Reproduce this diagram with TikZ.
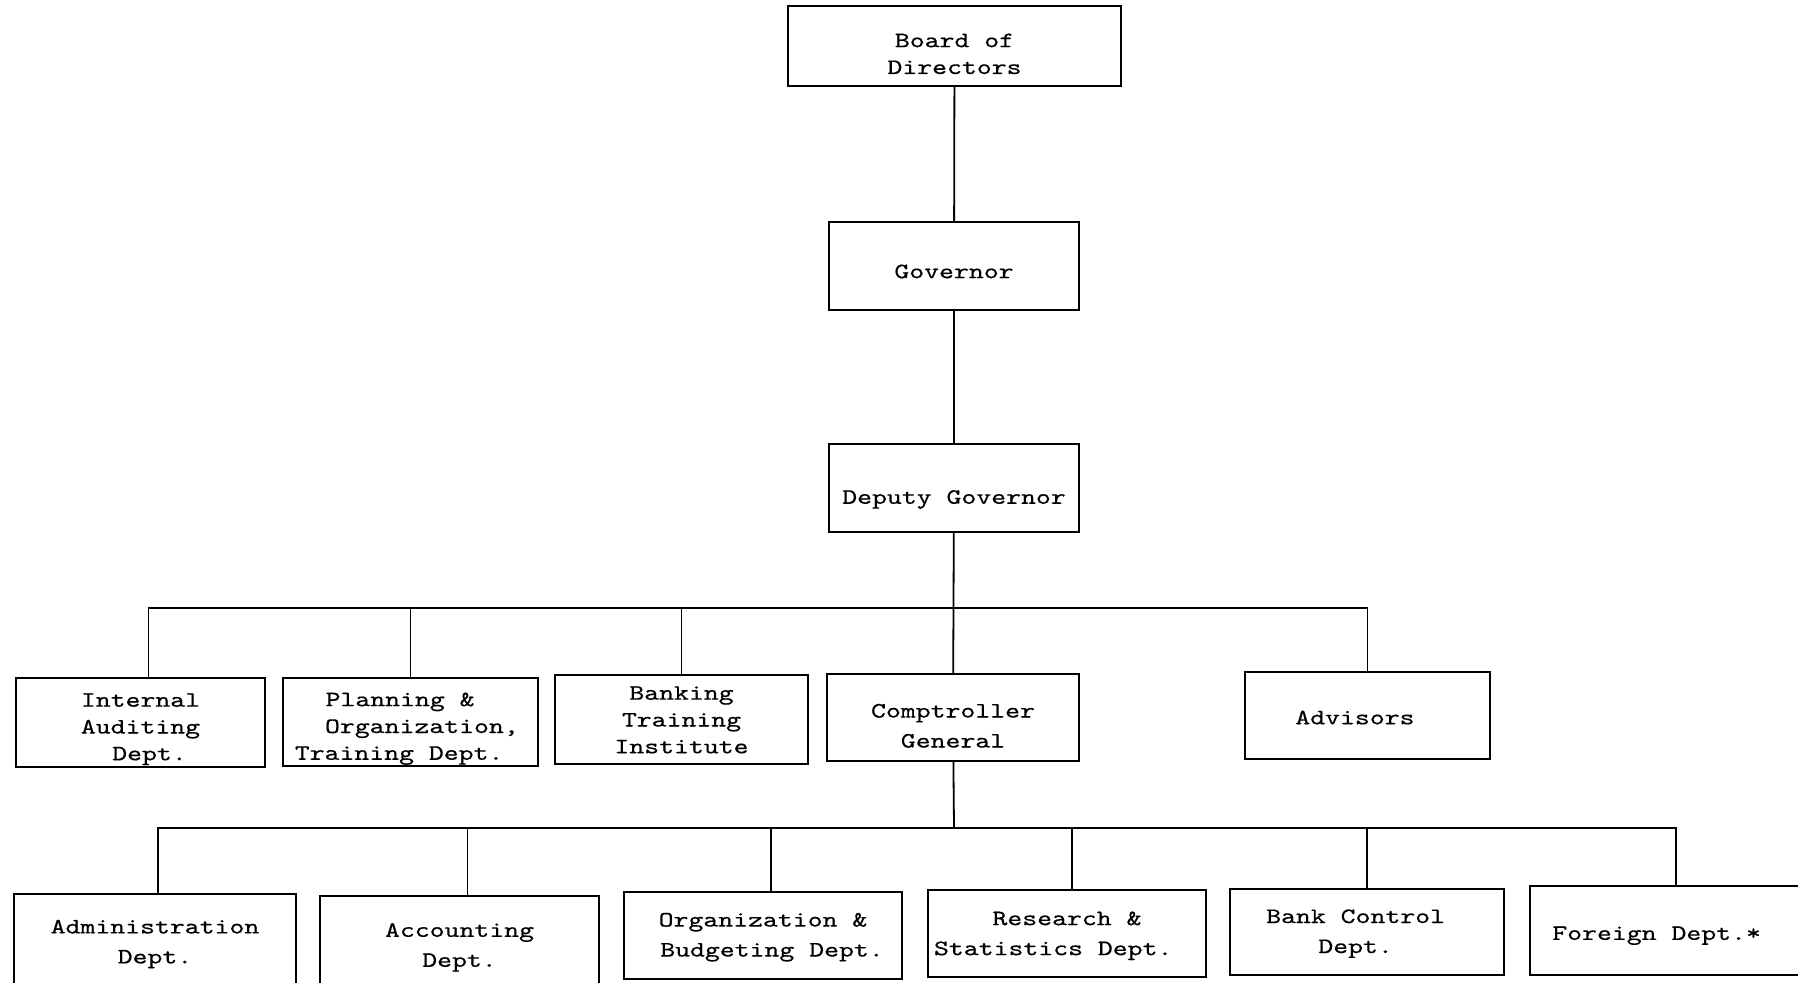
\documentclass[tikz,border=0pt]{standalone}
\usepackage{fontspec}
\newfontfamily\typew{lmmono10-regular}[Extension=.otf, FakeStretch=1.29, FakeBold=0.4]
\tikzset{
  orgbox/.style={draw, line width=1.35pt, rectangle, inner sep=0pt, outer sep=0pt,
    font=\typew\fontsize{11}{13.4}\selectfont},
  loose/.style={font=\typew\fontsize{11}{15}\selectfont},
  link/.style={line width=0.9pt}
}
% #1 options, #2 name, #3-#6 corners (px), #7 text dx (pt), #8 text dy (pt, down), #9 text
\newcommand\orgbox[9][]{%
  \node[orgbox, #1, minimum width={(#5-#3)*0.5pt}, minimum height={(#6-#4)*0.5pt}]
    (#2) at ({(#3+#5)/2},{(#4+#6)/2})
    {\kern#7pt\raisebox{\dimexpr-#8pt-2.75pt\relax}[0pt][0pt]{\begin{tabular}{@{}c@{}}#9\end{tabular}}\kern-#7pt};}
\begin{document}
\begin{tikzpicture}[x=0.5pt,y=-0.5pt]
\useasboundingbox (0,0) rectangle (1798,982);
\fill[white] (0,0) rectangle (1798,982);
\begin{scope}
\clip (0,0) rectangle (1798,982);
\orgbox{board}{788}{6}{1121}{86}{0}{4.6}{Board of\\Directors}
\orgbox{gov}{829}{222}{1079}{310}{0}{3.4}{Governor}
\orgbox{dep}{829}{444}{1079}{532}{0}{5.2}{Deputy Governor}
\orgbox{ia}{16}{678}{265}{767}{0}{2.8}{Internal\\Auditing\\\hspace*{0pt}\kern9pt Dept.}
\orgbox{plan}{283}{678}{538}{766}{0}{2.8}{Planning \&\hspace*{10.4pt}\\\hspace*{11.4pt}Organization,\\Training Dept.\hspace*{11.4pt}}
\orgbox{bti}{555}{675}{808}{764}{0}{0.8}{Banking\\Training\\Institute}
\orgbox[loose]{comp}{827}{674}{1079}{761}{0}{4.5}{Comptroller\\General}
\orgbox{adv}{1245}{672}{1490}{759}{-6.3}{1.7}{Advisors}
\orgbox[loose]{adm}{14}{894}{296}{984}{0}{1.7}{Administration\\Dept.}
\orgbox[loose]{acc}{320}{896}{599}{984}{0}{2.9}{Accounting\\Dept.}
\orgbox[loose]{obd}{624}{892}{902}{979}{0}{0}{Organization \&\\\hspace*{9pt}Budgeting Dept.}
\orgbox[loose]{rsd}{928}{890}{1206}{977}{0}{0.3}{Research \&\\Statistics Dept.\hspace*{13.8pt}}
\orgbox[loose]{bcd}{1230}{889}{1504}{975}{-5.7}{0}{Bank Control\\Dept.}
\orgbox{fd}{1530}{886}{1806}{975}{-5.7}{2}{Foreign Dept.*}

\coordinate (busA) at (954,608);
\coordinate (busB) at (954,828);

\draw[link] (board) -- (gov);
\draw[link] (gov) -- (dep);
\draw[link] (dep) -- (comp);
\draw[link] ([xshift=4pt]ia.north) |- (busA) -| (adv.north);
\draw[link] (plan.north) -- (plan.north |- busA);
\draw[link] (bti.north) -- (bti.north |- busA);
\draw[link] (comp) -- (busB);
\draw[link] ([xshift=1.5pt]adm.north) |- (busB) -| ([xshift=4pt]fd.north);
\draw[link] ([xshift=4pt]acc.north) -- ([xshift=4pt]acc.north |- busB);
\draw[link] ([xshift=4pt]obd.north) -- ([xshift=4pt]obd.north |- busB);
\draw[link] ([xshift=2.5pt]rsd.north) -- ([xshift=2.5pt]rsd.north |- busB);
\draw[link] (bcd.north) -- (bcd.north |- busB);
\end{scope}
\end{tikzpicture}
\end{document}
